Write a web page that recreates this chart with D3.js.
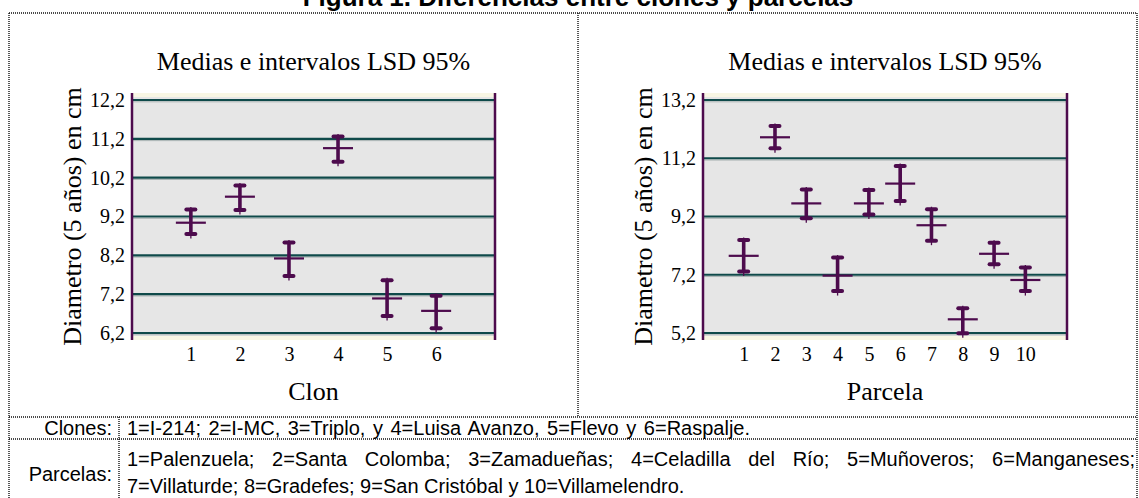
<!DOCTYPE html>
<html>
<head>
<meta charset="utf-8">
<script src="https://cdn.jsdelivr.net/npm/d3@7"></script>
<style>
  body { margin: 0; background: #fff; }
  svg { display: block; }
</style>
</head>
<body>
<div id="chart"></div>
<script>
var width = 1139, height = 498;

// datos: medias e intervalos LSD 95%
var clonCats = [1, 2, 3, 4, 5, 6];
var clonMeans = [9.04, 9.71, 8.12, 10.96, 7.09, 6.77];
var clonLow = [8.75, 9.37, 7.67, 10.61, 6.64, 6.32];
var clonHigh = [9.38, 10.00, 8.53, 11.26, 7.56, 7.16];
var clonTicks = [6.2, 7.2, 8.2, 9.2, 10.2, 11.2, 12.2];

var parcCats = [1, 2, 3, 4, 5, 6, 7, 8, 9, 10];
var parcMeans = [7.85, 11.92, 9.65, 7.17, 9.65, 10.33, 8.90, 5.67, 7.92, 7.02];
var parcLow = [7.31, 11.54, 9.14, 6.64, 9.27, 9.73, 8.37, 5.19, 7.56, 6.64];
var parcHigh = [8.39, 12.31, 10.13, 7.79, 10.11, 10.93, 9.45, 6.05, 8.30, 7.45];
var parcTicks = [5.2, 7.2, 9.2, 11.2, 13.2];

var figTitle = "Figura 1. Diferencias entre clones y parcelas";
var chartTitle = "Medias e intervalos LSD 95%";
var yTitle = "Diametro (5 años) en cm";
var clonesText = "1=I-214; 2=I-MC, 3=Triplo, y 4=Luisa Avanzo, 5=Flevo y 6=Raspalje.";
var parcLine1 = "1=Palenzuela; 2=Santa Colomba; 3=Zamadueñas; 4=Celadilla del Río; 5=Muñoveros; 6=Manganeses;";
var parcLine2 = "7=Villaturde; 8=Gradefes; 9=San Cristóbal y 10=Villamelendro.";

var es = d3.formatLocale({decimal: ",", thousands: ".", grouping: [3], currency: ["", ""]});
var fmt = es.format(".1f");

var svg = d3.select("#chart").append("svg")
    .attr("width", width)
    .attr("height", height);

var purple = "#4d0b4d", grid = "#0f4a4a";
var serif = "'Liberation Serif', 'Times New Roman', serif";
var sans = "'Liberation Sans', Arial, sans-serif";

// marco punteado
var frame = svg.append("g")
    .attr("fill", "none")
    .attr("stroke", "#111")
    .attr("stroke-width", 1.4)
    .attr("stroke-dasharray", "1,1");
frame.append("line").attr("x1", 9).attr("x2", 1137).attr("y1", 13).attr("y2", 13);
frame.append("line").attr("x1", 9).attr("x2", 9).attr("y1", 13).attr("y2", 498);
frame.append("line").attr("x1", 1137).attr("x2", 1137).attr("y1", 13).attr("y2", 498);
frame.append("line").attr("x1", 578).attr("x2", 578).attr("y1", 13).attr("y2", 417);
frame.append("line").attr("x1", 9).attr("x2", 1137).attr("y1", 417).attr("y2", 417);
frame.append("line").attr("x1", 9).attr("x2", 1137).attr("y1", 439).attr("y2", 439);
frame.append("line").attr("x1", 119).attr("x2", 119).attr("y1", 417).attr("y2", 498);

svg.append("text")
    .attr("x", 578).attr("y", 6)
    .attr("text-anchor", "middle")
    .style("font", "bold 26px " + sans)
    .text(figTitle);

function drawChart(opt) {
  var g = svg.append("g");
  var x = d3.scaleLinear().domain(opt.xDomain).range([opt.left, opt.right]);
  var y = d3.scaleLinear().domain([opt.ticks[0], opt.ticks[opt.ticks.length - 1]]).range([333, 100]);
  var top = 93, bottom = 340;

  g.append("rect").attr("x", opt.left).attr("y", top)
    .attr("width", opt.right - opt.left).attr("height", bottom - top).attr("fill", "#f8f6e4");
  g.append("rect").attr("x", opt.left).attr("y", top + 4)
    .attr("width", opt.right - opt.left).attr("height", bottom - top - 8).attr("fill", "#e6e6e6");

  // lineas de rejilla
  g.selectAll(".shadow").data(opt.ticks).enter().append("line")
    .attr("x1", opt.left).attr("x2", opt.right)
    .attr("y1", function(d) { return y(d) + 1.8; })
    .attr("y2", function(d) { return y(d) + 1.8; })
    .attr("stroke", "#a9b3b3").attr("stroke-width", 1);
  g.selectAll(".grid").data(opt.ticks).enter().append("line")
    .attr("x1", opt.left).attr("x2", opt.right)
    .attr("y1", function(d) { return y(d); })
    .attr("y2", function(d) { return y(d); })
    .attr("stroke", grid).attr("stroke-width", 2.2);

  // ejes
  var yAxis = g.append("g")
    .attr("transform", "translate(" + (opt.left - 7) + ",0)")
    .call(d3.axisLeft(y).tickValues(opt.ticks).tickFormat(fmt).tickSize(0).tickPadding(0));
  yAxis.select(".domain").remove();
  yAxis.selectAll("text").style("font", "20px " + serif).attr("fill", "#000");

  var xAxis = g.append("g")
    .attr("transform", "translate(0," + 347 + ")")
    .call(d3.axisBottom(x).tickValues(opt.cats).tickFormat(d3.format("d")).tickSize(0).tickPadding(0));
  xAxis.select(".domain").remove();
  xAxis.selectAll("text").style("font", "20px " + serif).attr("fill", "#000");

  [opt.left, opt.right].forEach(function(px) {
    g.append("line").attr("x1", px).attr("x2", px).attr("y1", top).attr("y2", bottom)
      .attr("stroke", purple).attr("stroke-width", 2.5);
  });

  // titulos
  var cx = (opt.left + opt.right) / 2;
  g.append("text").attr("x", cx).attr("y", 70).attr("text-anchor", "middle")
    .style("font", "26px " + serif).text(chartTitle);
  g.append("text").attr("x", cx).attr("y", 400).attr("text-anchor", "middle")
    .style("font", "26px " + serif).text(opt.xTitle);
  g.append("text")
    .attr("transform", "translate(" + (opt.left - 51) + "," + ((top + bottom) / 2) + ") rotate(-90)")
    .attr("text-anchor", "middle")
    .style("font", "26px " + serif).text(yTitle);

  // intervalos
  var rows = opt.cats.map(function(c, i) {
    return {c: c, m: opt.means[i], lo: opt.low[i], hi: opt.high[i]};
  });
  var mk = g.selectAll(".mk").data(rows).enter().append("g")
    .attr("transform", function(d) { return "translate(" + x(d.c) + ",0)"; })
    .attr("stroke", purple).attr("fill", "none");
  mk.append("line").attr("y1", function(d) { return y(d.hi) - 2.5; })
    .attr("y2", function(d) { return y(d.lo) + 4.5; }).attr("stroke-width", 1.3);
  mk.append("line").attr("y1", function(d) { return y(d.hi); })
    .attr("y2", function(d) { return y(d.lo); }).attr("stroke-width", 3.6);
  mk.append("line").attr("x1", -4.5).attr("x2", 4.5)
    .attr("y1", function(d) { return y(d.hi); }).attr("y2", function(d) { return y(d.hi); })
    .attr("stroke-width", 4).attr("stroke-linecap", "round");
  mk.append("line").attr("x1", -4.5).attr("x2", 4.5)
    .attr("y1", function(d) { return y(d.lo); }).attr("y2", function(d) { return y(d.lo); })
    .attr("stroke-width", 4).attr("stroke-linecap", "round");
  mk.append("line").attr("x1", -15).attr("x2", 15)
    .attr("y1", function(d) { return y(d.m); }).attr("y2", function(d) { return y(d.m); })
    .attr("stroke-width", 2.2);
}

drawChart({left: 132, right: 495, xDomain: [-0.2, 7.2], cats: clonCats, means: clonMeans,
  low: clonLow, high: clonHigh, ticks: clonTicks, xTitle: "Clon"});
drawChart({left: 703, right: 1067, xDomain: [-0.3, 11.33], cats: parcCats, means: parcMeans,
  low: parcLow, high: parcHigh, ticks: parcTicks, xTitle: "Parcela"});

// notas
var notes = svg.append("g").style("font", "20px " + sans).attr("fill", "#000");
notes.append("text").attr("x", 112).attr("y", 435).attr("text-anchor", "end").text("Clones:");
notes.append("text").attr("x", 127).attr("y", 435).style("word-spacing", "2px").text(clonesText);
notes.append("text").attr("x", 112).attr("y", 481).attr("text-anchor", "end").text("Parcelas:");

// linea justificada
function justify(str, x0, x1, yy) {
  var words = str.split(" ");
  var t = notes.selectAll(null).data(words).enter().append("text").attr("y", yy).text(function(d) { return d; });
  var widths = [];
  t.each(function() { widths.push(this.getComputedTextLength()); });
  var gap = (x1 - x0 - d3.sum(widths)) / (words.length - 1);
  var pos = x0;
  t.attr("x", function(d, i) { var p = pos; pos += widths[i] + gap; return p; });
}
justify(parcLine1, 127, 1135, 466);
notes.append("text").attr("x", 127).attr("y", 493).text(parcLine2);
</script>
</body>
</html>
